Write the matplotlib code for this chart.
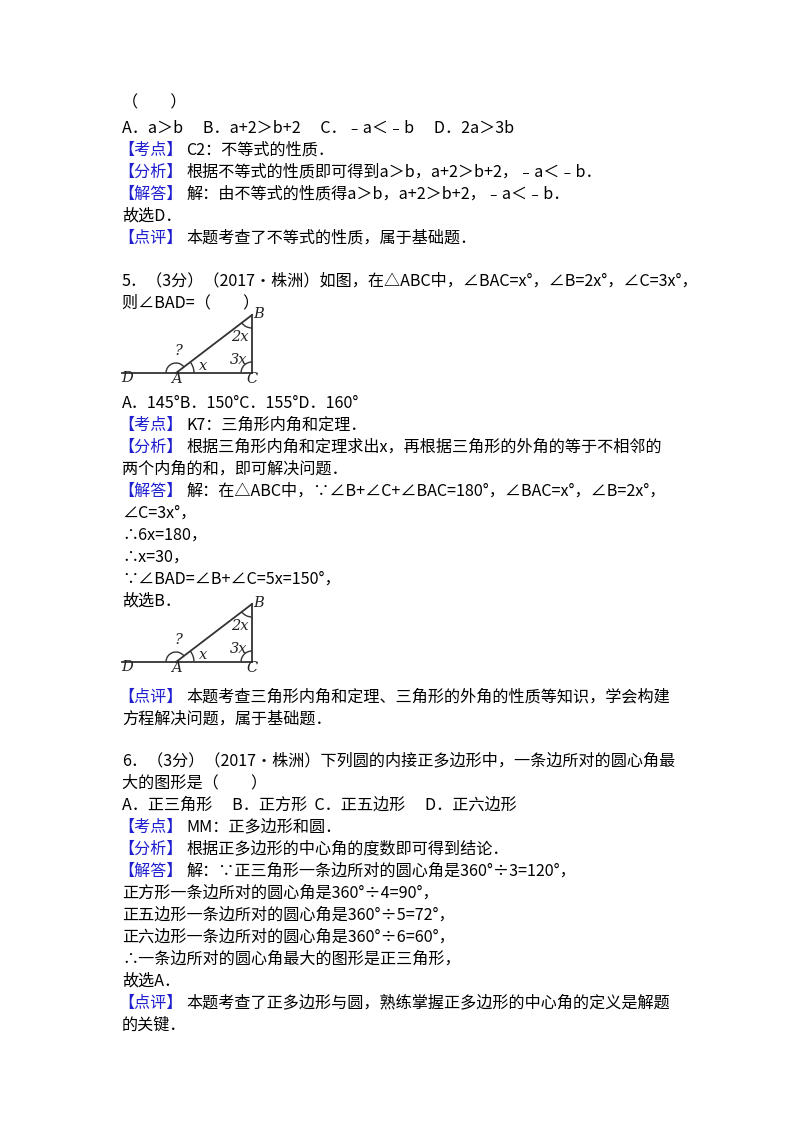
import matplotlib
matplotlib.use("Agg")
import matplotlib.pyplot as plt
from matplotlib.patches import Arc

plt.rcParams['font.family'] = ['Noto Sans CJK SC', 'DejaVu Sans']

BLUE = '#1f1fd0'
lines = [
    (103, None, "（　　）"),
    (128, None, "A．a＞b　 B．a+2＞b+2　 C．﹣a＜﹣b　 D．2a＞3b"),
    (150, "【考点】", "C2：不等式的性质．"),
    (172, "【分析】", "根据不等式的性质即可得到a＞b，a+2＞b+2，﹣a＜﹣b．"),
    (194, "【解答】", "解：由不等式的性质得a＞b，a+2＞b+2，﹣a＜﹣b．"),
    (216, None, "故选D．"),
    (238, "【点评】", "本题考查了不等式的性质，属于基础题．"),
    (281, None, "5．（3分）（2017•株洲）如图，在△ABC中，∠BAC=x°，∠B=2x°，∠C=3x°，"),
    (303, None, "则∠BAD=（　　）"),
    (403, None, "A．145°B．150°C．155°D．160°"),
    (425, "【考点】", "K7：三角形内角和定理．"),
    (447, "【分析】", "根据三角形内角和定理求出x，再根据三角形的外角的等于不相邻的"),
    (469, None, "两个内角的和，即可解决问题．"),
    (491, "【解答】", "解：在△ABC中，∵∠B+∠C+∠BAC=180°，∠BAC=x°，∠B=2x°，"),
    (513, None, "∠C=3x°，"),
    (535, None, "∴6x=180，"),
    (557, None, "∴x=30，"),
    (579, None, "∵∠BAD=∠B+∠C=5x=150°，"),
    (601, None, "故选B．"),
    (697, "【点评】", "本题考查三角形内角和定理、三角形的外角的性质等知识，学会构建"),
    (719, None, "方程解决问题，属于基础题．"),
    (761, None, "6．（3分）（2017•株洲）下列圆的内接正多边形中，一条边所对的圆心角最"),
    (783, None, "大的图形是（　　）"),
    (805, None, "A．正三角形　 B．正方形  C．正五边形　 D．正六边形"),
    (827, "【考点】", "MM：正多边形和圆．"),
    (849, "【分析】", "根据正多边形的中心角的度数即可得到结论．"),
    (871, "【解答】", "解：∵正三角形一条边所对的圆心角是360°÷3=120°，"),
    (893, None, "正方形一条边所对的圆心角是360°÷4=90°，"),
    (915, None, "正五边形一条边所对的圆心角是360°÷5=72°，"),
    (937, None, "正六边形一条边所对的圆心角是360°÷6=60°，"),
    (959, None, "∴一条边所对的圆心角最大的图形是正三角形，"),
    (981, None, "故选A．"),
    (1003, "【点评】", "本题考查了正多边形与圆，熟练掌握正多边形的中心角的定义是解题"),
    (1025, None, "的关键．"),
]

fig = plt.figure(figsize=(8, 11.32), dpi=100)
ax = fig.add_axes([0, 0, 1, 1])
ax.set_xlim(0, 800)
ax.set_ylim(1132, 0)
ax.axis('off')

FS = 11.6
for y, lab, body in lines:
    if lab:
        ax.text(118, y, lab, color=BLUE, fontsize=FS, va='center', ha='left')
        ax.text(186, y, body, color='black', fontsize=FS, va='center', ha='left')
    else:
        ax.text(122, y, body, color='black', fontsize=FS, va='center', ha='left')

def diagram(y0):
    D = (122, y0); A = (176, y0); C = (252, y0); B = (252, y0 - 58)
    k = dict(color='#333333', lw=1.3)
    ax.plot([D[0], C[0]], [D[1], C[1]], **k)
    ax.plot([A[0], B[0]], [A[1], B[1]], **k)
    ax.plot([C[0], B[0]], [C[1], B[1]], **k)
    tf = dict(fontsize=10.5, family='DejaVu Serif', style='italic', color='#222222')
    ax.text(127, y0 + 5, "D", va='center', ha='center', **tf)
    ax.text(176, y0 + 6, "A", va='center', ha='center', **tf)
    ax.text(252, y0 + 6, "C", va='center', ha='center', **tf)
    ax.text(259, y0 - 59, "B", va='center', ha='center', **tf)
    ax.text(240, y0 - 36, "2x", va='center', ha='center', **tf)
    ax.text(239, y0 - 13, "3x", va='center', ha='center', **tf)
    ax.text(203, y0 - 7, "x", va='center', ha='center', **tf)
    ax.text(178, y0 - 22, "?", va='center', ha='center', **tf)
    ax.add_patch(Arc(A, 20, 20, theta1=180, theta2=323, color='#333333', lw=1))
    ax.add_patch(Arc(A, 36, 36, theta1=324, theta2=360, color='#333333', lw=1))
    ax.add_patch(Arc(C, 22, 22, theta1=180, theta2=270, color='#333333', lw=1))
    ax.add_patch(Arc(B, 26, 26, theta1=90, theta2=144, color='#333333', lw=1))

diagram(373)
diagram(662)

fig.savefig("out.png", dpi=100)
